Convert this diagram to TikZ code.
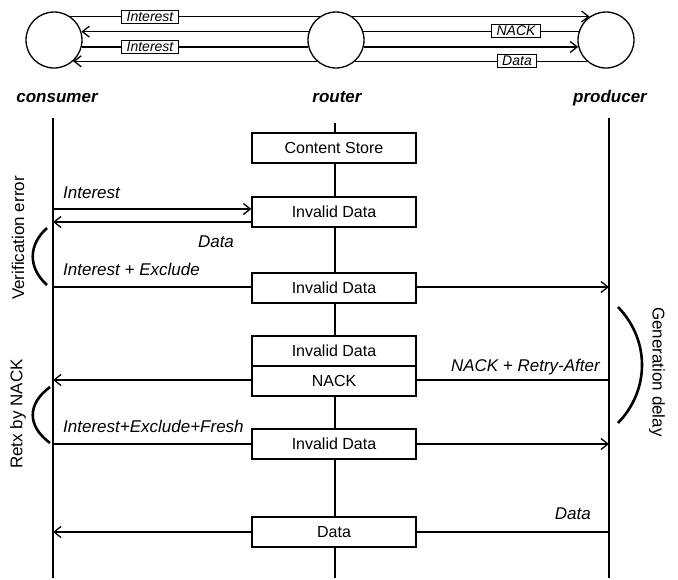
\documentclass[tikz,border=0pt]{standalone}
\usepackage{fontspec}
\setmainfont{Liberation Sans}
\usetikzlibrary{arrows.meta, positioning, calc}

\begin{document}
\begin{tikzpicture}[
    x=1pt, y=-1pt,
    host/.style={draw, circle, minimum size=56pt, inner sep=0pt, line width=1.3pt, fill=white},
    hostname/.style={font=\fontsize{17}{20}\selectfont\bfseries\itshape, inner sep=0pt},
    tag/.style={draw, rectangle, fill=white, inner xsep=5pt, inner ysep=1.5pt, line width=1pt, font=\fontsize{14}{16}\selectfont\itshape},
    store/.style={draw, rectangle, fill=white, minimum width=164pt, minimum height=30pt, inner sep=0pt, line width=1.3pt, font=\fontsize{16}{18}\selectfont},
    msg/.style={line width=1.3pt},
    arrow/.style={msg, -{Straight Barb[length=7pt, width=11pt]}},
    lifeline/.style={line width=2.6pt},
    msglabel/.style={font=\fontsize{17}{20}\selectfont\itshape, inner sep=0pt},
    phase/.style={font=\fontsize{17}{20}\selectfont, inner sep=0pt},
    brace/.style={line width=2.6pt}
]
\useasboundingbox (0,0) rectangle (678,579);

% Top graph
\node[host] (cons) at (54,40) {};
\node[host] (rout) at (336,40) {};
\node[host] (prod) at (606,40) {};

\draw[msg] (cons.55) -- (rout.125);
\draw[arrow] (rout.55) -- (prod.125);
\draw[msg] (prod.163) -- (rout.17);
\draw[arrow] (rout.163) -- (cons.17);
\draw[msg] (cons.-14.5) -- (rout.194.5);
\draw[arrow] (rout.-14.5) -- (prod.194.5);
\draw[msg] (prod.228.6) -- (rout.-48.6);
\draw[arrow] (rout.228.6) -- (cons.-48.6);

\node[tag] (tInt1) at (150,17) {Interest};
\node[tag] (tNack) at (516,31) {NACK};
\node[tag] (tInt2) at (150,47) {Interest};
\node[tag] (tData) at (517,61) {Data};

\node[hostname, anchor=base] (consL) at (57,102) {consumer};
\node[hostname, anchor=base] (routL) at (337,102) {router};
\node[hostname, anchor=base] (prodL) at (610,102) {producer};

% Lifelines
\coordinate (cTop) at (53,118);
\coordinate (cBot) at (53,578);
\coordinate (rTop) at (335,123);
\coordinate (rBot) at (335,578);
\coordinate (pTop) at (609,118);
\coordinate (pBot) at (609,578);
\draw[lifeline] (cTop) -- (cBot);
\draw[lifeline] (rTop) -- (rBot);
\draw[lifeline] (pTop) -- (pBot);

% Router boxes
\node[store] (cs) at (334,148) {Content Store};
\node[store] (inv1) at (334,212) {Invalid Data};
\node[store] (inv2) at (334,288) {Invalid Data};
\node[store] (inv3) at (334,351) {Invalid Data};
\node[store] (nack) at (334,381) {NACK};
\node[store] (inv4) at (334,444) {Invalid Data};
\node[store] (data) at (334,532) {Data};

% Messages
\coordinate (c1) at (53,209);
\coordinate (c2) at (53,222);
\draw[arrow] (c1) -- (c1 -| inv1.west);
\draw[arrow] (c2 -| inv1.west) -- (c2);

\coordinate (c3) at (53,287);
\coordinate (p3) at (609,287);
\draw[msg] (c3) -- (c3 -| inv2.west);
\draw[arrow] (p3 -| inv2.east) -- (p3);

\coordinate (c4) at (53,380);
\coordinate (p4) at (609,380);
\draw[msg] (p4) -- (p4 -| nack.east);
\draw[arrow] (c4 -| nack.west) -- (c4);

\coordinate (c5) at (53,444);
\coordinate (p5) at (609,444);
\draw[msg] (c5) -- (c5 -| inv4.west);
\draw[arrow] (p5 -| inv4.east) -- (p5);

\coordinate (c6) at (53,532);
\coordinate (p6) at (609,532);
\draw[msg] (p6) -- (p6 -| data.east);
\draw[arrow] (c6 -| data.west) -- (c6);

% Message labels
\node[msglabel, anchor=base west] (lInt) at (63,198) {Interest};
\node[msglabel, anchor=base] (lData) at (216,247) {Data};
\node[msglabel, anchor=base west] (lIntEx) at (63,275) {Interest + Exclude};
\node[msglabel, anchor=base east] (lNack) at (600,371) {NACK + Retry-After};
\node[msglabel, anchor=base west] (lFresh) at (63,432) {Interest+Exclude+Fresh};
\node[msglabel, anchor=base east] (lData2) at (591,519) {Data};

% Phases
\node[phase, rotate=90] (verr) at (18,238) {Verification error};
\node[phase, rotate=90] (retx) at (18,414) {Retx by NACK};
\node[phase, rotate=-90] (gdel) at (657,372) {Generation delay};

\draw[brace] (47,228) .. controls (28,245) and (28,268) .. (47,285);
\draw[brace] (50,387) .. controls (27,404) and (27,426) .. (50,443);
\draw[brace] (618,307) .. controls (650,340) and (650,390) .. (618,423);

\end{tikzpicture}
\end{document}
